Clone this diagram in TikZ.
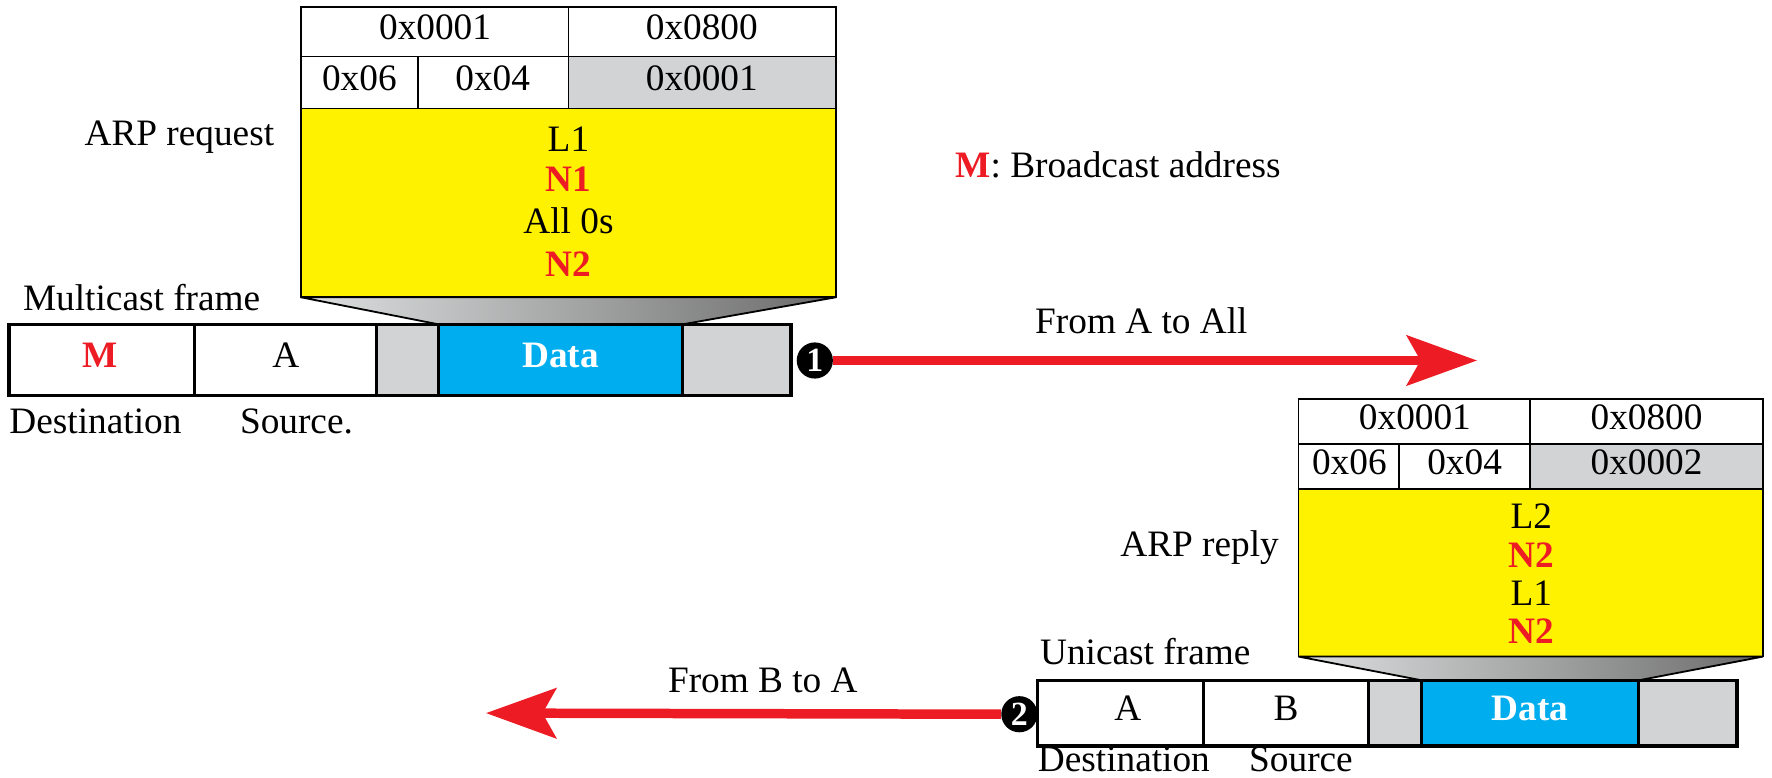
\documentclass[tikz,border=0pt]{standalone}
\usepackage{fontspec}
\setmainfont{Liberation Serif}
\usetikzlibrary{arrows.meta}
\definecolor{arpyellow}{HTML}{FFF200}
\definecolor{datablue}{HTML}{00AEEF}
\definecolor{fieldgray}{HTML}{D1D3D4}
\definecolor{arrowred}{HTML}{ED1C24}

\begin{document}
\begin{tikzpicture}[x=0.5pt,y=-0.5pt,
  lbl/.style={font=\fontsize{16.5}{18}\selectfont, inner sep=0pt, text height=0.68em, text depth=0pt},
  bold/.style={lbl, font=\fontsize{16.5}{18}\selectfont\bfseries},
  hot/.style={bold, text=arrowred},
  cellline/.style={draw=black, line width=0.8pt},
  frameline/.style={draw=black, line width=1.6pt},
  marker/.style={circle, fill=black, minimum size=16pt, inner sep=0pt, text=white,
    font=\fontsize{15}{15}\selectfont\bfseries},
  redarrow/.style={draw=arrowred, line width=4.2pt,
    -{Stealth[length=31pt, width=22pt, inset=6pt, fill=arrowred]}},
  funnel/.style={draw=black, line width=0.8pt, left color=fieldgray!70, right color=black!58}
]
\useasboundingbox (0,0) rectangle (1568,688);

% ---------- ARP request packet ----------
\draw[cellline, fill=white] (266,6) rectangle (503,50);
\draw[cellline, fill=white] (503,6) rectangle (740,50);
\draw[cellline, fill=white] (266,50) rectangle (370,96);
\draw[cellline, fill=white] (370,50) rectangle (503,96);
\draw[cellline, fill=fieldgray] (503,50) rectangle (740,96);
\draw[cellline, fill=arpyellow] (266,96) rectangle (740,263);
\node[lbl] (qhtype) at (385,28) {0x0001};
\node[lbl] (qptype) at (621,28) {0x0800};
\node[lbl] (qhlen) at (318,73) {0x06};
\node[lbl] (qplen) at (436,73) {0x04};
\node[lbl] (qop) at (621,73) {0x0001};
\node[lbl] (qsha) at (503,127) {L1};
\node[hot] (qspa) at (503,163) {N1};
\node[lbl] (qtha) at (503,200) {All 0s};
\node[hot] (qtpa) at (503,238) {N2};
\node[lbl, anchor=east] (qname) at (243,122) {ARP request};

% funnel into the data field
\shade[funnel] (266,263) -- (740,263) -- (604,287) -- (388,287) -- cycle;

% ---------- multicast frame ----------
\draw[frameline, fill=white] (8,287) rectangle (172,350);
\draw[frameline, fill=white] (172,287) rectangle (333,350);
\draw[frameline, fill=fieldgray] (333,287) rectangle (388,350);
\draw[frameline, fill=datablue] (388,287) rectangle (604,350);
\draw[frameline, fill=fieldgray] (604,287) rectangle (700,350);
\node[hot] (mdst) at (89,318) {M};
\node[lbl] (msrc) at (253,318) {A};
\node[bold, text=white] (mdata) at (496,318) {Data};
\node[lbl, anchor=west] (mframe) at (20,268) {Multicast frame};
\node[lbl, anchor=west] (mdstl) at (8,377) {Destination};
\node[lbl, anchor=west] (msrcl) at (212,377) {Source.};

\node[lbl, anchor=west] (legend) at (845,150) {\textcolor{arrowred}{\bfseries M}: Broadcast address};

% ---------- step 1 ----------
\coordinate (e1) at (1307,319);
\node[marker] (c1) at (721,319) {1};
\draw[redarrow] (c1.east) -- (e1);
\node[lbl] (t1) at (1010,288) {From A to All};

% ---------- ARP reply packet ----------
\draw[cellline, fill=white] (1149,353) rectangle (1354,393);
\draw[cellline, fill=white] (1354,353) rectangle (1560,393);
\draw[cellline, fill=white] (1149,393) rectangle (1238,433);
\draw[cellline, fill=white] (1238,393) rectangle (1354,433);
\draw[cellline, fill=fieldgray] (1354,393) rectangle (1560,433);
\draw[cellline, fill=arpyellow] (1149,433) rectangle (1560,581);
\node[lbl] (rhtype) at (1252,373) {0x0001};
\node[lbl] (rptype) at (1457,373) {0x0800};
\node[lbl] (rhlen) at (1194,413) {0x06};
\node[lbl] (rplen) at (1296,413) {0x04};
\node[lbl] (rop) at (1457,413) {0x0002};
\node[lbl] (rsha) at (1355,461) {L2};
\node[hot] (rspa) at (1355,495) {N2};
\node[lbl] (rtha) at (1355,529) {L1};
\node[hot] (rtpa) at (1355,563) {N2};
\node[lbl, anchor=east] (rname) at (1132,486) {ARP reply};

\shade[funnel] (1149,581) -- (1560,581) -- (1450,602) -- (1258,602) -- cycle;

% ---------- unicast frame ----------
\draw[frameline, fill=white] (918,602) rectangle (1065,660);
\draw[frameline, fill=white] (1065,602) rectangle (1211,660);
\draw[frameline, fill=fieldgray] (1211,602) rectangle (1258,660);
\draw[frameline, fill=datablue] (1258,602) rectangle (1450,660);
\draw[frameline, fill=fieldgray] (1450,602) rectangle (1537,660);
\node[lbl] (udst) at (998,631) {A};
\node[lbl] (usrc) at (1138,631) {B};
\node[bold, text=white] (udata) at (1354,631) {Data};
\node[lbl, anchor=west] (uframe) at (920,581) {Unicast frame};
\node[lbl, anchor=west] (udstl) at (918,676) {Destination};
\node[lbl, anchor=west] (usrcl) at (1105,676) {Source};

% ---------- step 2 ----------
\coordinate (e2) at (430,631);
\node[marker] (c2) at (902,632) {2};
\draw[redarrow] (c2.west) -- (e2);
\node[lbl] (t2) at (675,606) {From B to A};
\end{tikzpicture}
\end{document}
